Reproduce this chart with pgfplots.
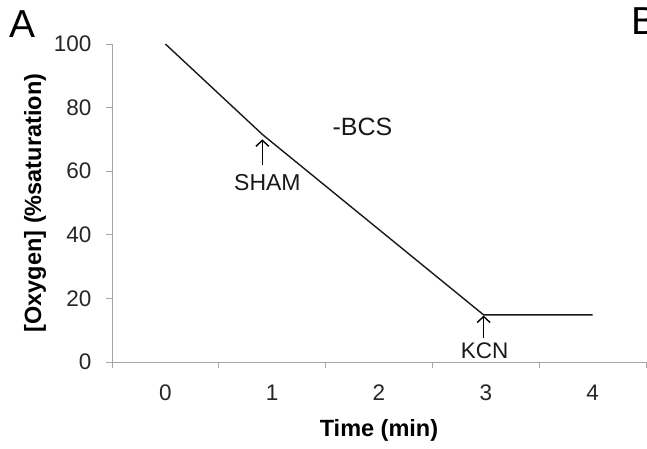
\documentclass[border=0pt]{standalone}
\usepackage{pgfplots}
\pgfplotsset{compat=1.18}
\usetikzlibrary{arrows.meta}
\usepackage{fontspec}
\setmainfont{Liberation Sans}

\begin{document}
\begin{tikzpicture}
\begin{axis}[
    scale only axis,
    width=534pt, height=318pt,
    at={(112pt,86pt)}, anchor=south west,
    xmin=-0.5, xmax=4.5,
    ymin=0, ymax=100,
    axis lines*=left,
    axis line style={gray!70, line width=1pt},
    xtick={0,1,2,3,4},
    ytick={0,20,...,100},
    minor xtick={-0.5,0.5,...,4.5},
    major x tick style={draw=none},
    minor x tick style={gray!70, line width=1pt},
    y tick style={gray!70, line width=1pt},
    tick align=outside,
    major tick length=6pt,
    minor tick length=6pt,
    /pgf/number format/assume math mode=true,
    tick label style={font=\fontsize{22.5}{26}\selectfont, text=black!85},
    xticklabel style={yshift=-13pt},
    yticklabel style={xshift=-11pt},
    xlabel={\textbf{Time (min)}},
    ylabel={\textbf{[Oxygen] (\%saturation)}},
    label style={font=\fontsize{23.5}{28}\selectfont},
    xlabel style={at={(axis description cs:0.5,0)}, anchor=center, yshift=-68pt},
    ylabel style={at={(axis description cs:0,0.5)}, anchor=center, yshift=77pt},
    clip=false,
]
\addplot[black!90, line width=1.4pt] coordinates {
    (0,100) (0.91,71.5) (2.98,14.8) (4,14.8)
};
\draw[-{Straight Barb[length=6pt,width=13pt,line width=1.4pt]}, line width=1.4pt] (axis cs:0.908,62) -- (axis cs:0.908,70);
\draw[-{Straight Barb[length=6pt,width=13pt,line width=1.4pt]}, line width=1.4pt] (axis cs:2.98,7.5) -- (axis cs:2.98,14.6);
\node[font=\fontsize{23}{27}\selectfont, text=black!90] at (axis cs:0.955,56.5) {SHAM};
\node[font=\fontsize{22.5}{27}\selectfont, text=black!90] at (axis cs:2.99,3.5) {KCN};
\node[font=\fontsize{25}{30}\selectfont, text=black!90] at (axis cs:1.845,73.9) {-BCS};
\end{axis}
\node[anchor=base, font=\fontsize{39}{44}\selectfont] at (23pt,410pt) {A};
\node[anchor=base west, inner sep=0pt, font=\fontsize{39}{44}\selectfont] at (631pt,413pt) {B};
\pgfresetboundingbox
\useasboundingbox (0,0) rectangle (647pt,448pt);
\end{tikzpicture}
\end{document}
